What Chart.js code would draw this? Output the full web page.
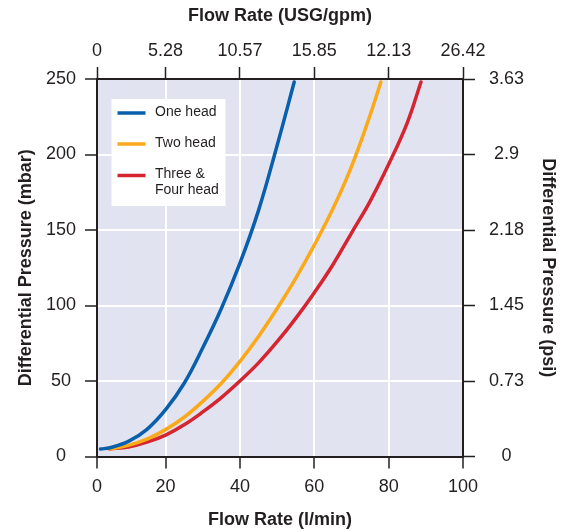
<!DOCTYPE html>
<html>
<head>
<meta charset="utf-8">
<script src="https://cdn.jsdelivr.net/npm/chart.js@4/dist/chart.umd.min.js"></script>
<style>
  body { margin: 0; background: #fff; }
  #wrap { width: 569px; height: 532px; }
</style>
</head>
<body>
<div id="wrap"><canvas id="flowChart" width="569" height="532"></canvas></div>
<script>
// Values
const flowTicks = [0, 20, 40, 60, 80, 100];
const usgTicks = ['0', '5.28', '10.57', '15.85', '12.13', '26.42'];
const mbarTicks = [0, 50, 100, 150, 200, 250];
const psiTicks = ['0', '0.73', '1.45', '2.18', '2.9', '3.63'];

const oneHeadFlow = [2.5, 5, 10, 15, 20, 25, 30, 35, 40, 45, 50, 54.6];
const oneHeadPressure = [5, 5.8, 10, 18, 31, 48.5, 72, 98, 128, 163, 206, 248];

const twoHeadFlow = [5, 10, 15, 20, 25, 30, 35, 40, 45, 50, 55, 60, 65, 70, 75, 77.9];
const twoHeadPressure = [5, 7.4, 11.5, 17.8, 26, 36.5, 48.5, 63, 79.5, 98, 118, 140, 164, 192, 226, 248];

const fourHeadFlow = [5, 10, 15, 20, 25, 30, 35, 40, 45, 50, 55, 60, 65, 70, 75, 80, 85, 88.7];
const fourHeadPressure = [5, 6.3, 9.5, 14.2, 21, 29.5, 39, 50, 62, 76, 91.5, 108.5, 127, 148, 169, 193.5, 221, 248];

const seriesLabels = ['One head', 'Two head', ['Three &', 'Four head']];
const seriesColors = ['#0a5fac', '#fba919', '#d42530'];

// the zero tick of the original sits a little left of the axis line
const xStart = 1.55;
const ink = '#231f20';

function toPoints(xs, ys) {
  return xs.map((x, i) => ({ x: x, y: ys[i] }));
}

const plotBackground = {
  id: 'plotBackground',
  beforeDraw(chart) {
    const a = chart.chartArea;
    const c = chart.ctx;
    c.save();
    c.fillStyle = '#e1e3f1';
    c.fillRect(a.left, a.top, a.right - a.left, a.bottom - a.top);
    c.restore();
  }
};

// legend box drawn inside the plot, upper left
const boxLegend = {
  id: 'boxLegend',
  afterDatasetsDraw(chart) {
    const a = chart.chartArea;
    const c = chart.ctx;
    const bx = a.left + 14.5, by = a.top + 20;
    c.save();
    c.fillStyle = '#ffffff';
    c.fillRect(bx, by, 114, 107);
    c.font = '14px "Liberation Sans", Arial, sans-serif';
    c.fillStyle = ink;
    c.textBaseline = 'middle';
    const rows = [14, 45, 76.5];
    chart.data.datasets.forEach((ds, i) => {
      const ly = by + rows[i];
      c.strokeStyle = ds.borderColor;
      c.lineWidth = 3.5;
      c.beginPath();
      c.moveTo(bx + 6, ly);
      c.lineTo(bx + 34, ly);
      c.stroke();
      const lines = Array.isArray(ds.label) ? ds.label : [ds.label];
      lines.forEach((t, j) => {
        c.fillText(t, bx + 43.5, ly - 1 + j * 16);
      });
    });
    c.restore();
  }
};

const tickFont = { family: '"Liberation Sans", Arial, sans-serif', size: 18 };
const titleFont = { family: '"Liberation Sans", Arial, sans-serif', size: 18, weight: 'bold' };

function fixedTicks(scale) {
  scale.ticks = flowTicks.map((v, i) => ({ value: i === 0 ? xStart : v }));
}

new Chart(document.getElementById('flowChart'), {
  type: 'line',
  data: {
    datasets: [
      { label: seriesLabels[0], data: toPoints(oneHeadFlow, oneHeadPressure), borderColor: seriesColors[0] },
      { label: seriesLabels[1], data: toPoints(twoHeadFlow, twoHeadPressure), borderColor: seriesColors[1] },
      { label: seriesLabels[2], data: toPoints(fourHeadFlow, fourHeadPressure), borderColor: seriesColors[2] }
    ]
  },
  options: {
    responsive: false,
    animation: false,
    devicePixelRatio: 1,
    layout: { padding: 0 },
    elements: {
      line: { borderWidth: 3.5, tension: 0.4, fill: false, borderCapStyle: 'round' },
      point: { radius: 0 }
    },
    plugins: {
      legend: { display: false },
      tooltip: { enabled: false }
    },
    scales: {
      x: {
        type: 'linear',
        position: 'bottom',
        min: xStart,
        max: 100,
        afterBuildTicks: fixedTicks,
        afterFit(s) { s.height = 75.5; },
        ticks: {
          color: ink,
          font: tickFont,
          padding: 8,
          maxRotation: 0,
          autoSkip: false,
          callback: (v, i) => String(flowTicks[i])
        },
        grid: { color: '#ffffff', lineWidth: 2, tickColor: ink, tickWidth: 1.5, tickLength: 12 },
        border: { color: ink, width: 2 },
        title: { display: true, text: 'Flow Rate (l/min)', color: ink, font: titleFont, padding: { top: 0, bottom: 1 } }
      },
      x2: {
        type: 'linear',
        position: 'top',
        min: xStart,
        max: 100,
        afterBuildTicks: fixedTicks,
        afterFit(s) { s.height = 79; },
        ticks: {
          color: ink,
          font: tickFont,
          padding: 5,
          maxRotation: 0,
          autoSkip: false,
          callback: (v, i) => usgTicks[i]
        },
        grid: { drawOnChartArea: false, tickColor: ink, tickWidth: 1.5, tickLength: 12 },
        border: { color: ink, width: 2 },
        title: { display: true, text: 'Flow Rate (USG/gpm)', color: ink, font: titleFont, padding: { top: 5, bottom: 0 } }
      },
      y: {
        type: 'linear',
        position: 'left',
        min: 0,
        max: 250,
        afterBuildTicks(s) { s.ticks = mbarTicks.map(v => ({ value: v })); },
        afterFit(s) { s.width = 97; },
        ticks: { color: ink, font: tickFont, padding: 9, crossAlign: 'center' },
        grid: { color: '#ffffff', lineWidth: 2, tickColor: ink, tickWidth: 1.5, tickLength: 12 },
        border: { color: ink, width: 2 },
        title: { display: true, text: 'Differential Pressure (mbar)', color: ink, font: titleFont, padding: { top: 15, bottom: 0 } }
      },
      y2: {
        type: 'linear',
        position: 'right',
        min: 0,
        max: 250,
        afterBuildTicks(s) { s.ticks = mbarTicks.map(v => ({ value: v })); },
        afterFit(s) { s.width = 106; },
        ticks: {
          color: ink,
          font: tickFont,
          padding: 14,
          crossAlign: 'center',
          callback: (v, i) => psiTicks[i]
        },
        grid: { drawOnChartArea: false, tickColor: ink, tickWidth: 1.5, tickLength: 12 },
        border: { color: ink, width: 2 },
        title: { display: true, text: 'Differential Pressure (psi)', color: ink, font: titleFont, padding: { top: 10, bottom: 0 } }
      }
    }
  },
  plugins: [plotBackground, boxLegend]
});
</script>
</body>
</html>
